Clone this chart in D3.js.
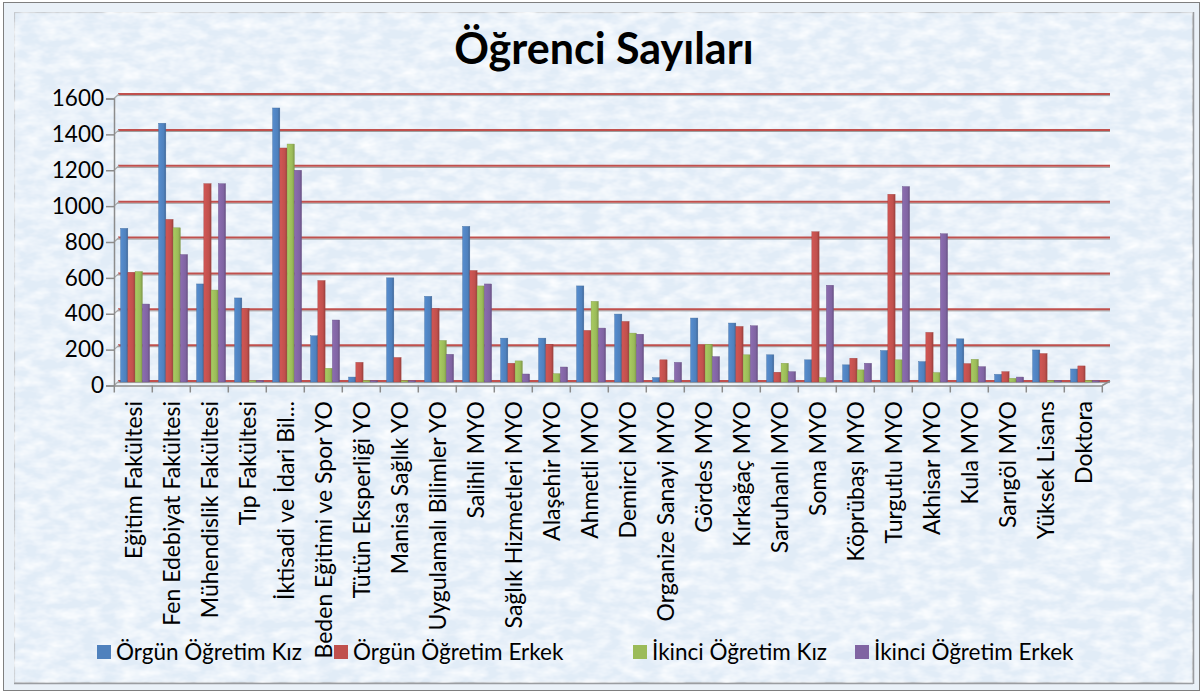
<!DOCTYPE html>
<html>
<head>
<meta charset="utf-8">
<script src="https://cdn.jsdelivr.net/npm/d3@7"></script>
<style>
  html, body { margin: 0; padding: 0; background: #ffffff; }
  svg { display: block; }
  text { font-family: Lato, "Open Sans", sans-serif; fill: #000; }
</style>
</head>
<body>
<svg id="chart" width="1203" height="693"></svg>
<script>
// ---------------- data ----------------
const title = "Öğrenci Sayıları";
const categories = [
  "Eğitim Fakültesi", "Fen Edebiyat Fakültesi", "Mühendislik Fakültesi", "Tıp Fakültesi",
  "İktisadi ve İdari Bil...", "Beden Eğitimi ve Spor YO", "Tütün Eksperliği YO", "Manisa Sağlık YO",
  "Uygulamalı Bilimler YO", "Salihli MYO", "Sağlık Hizmetleri MYO", "Alaşehir MYO",
  "Ahmetli MYO", "Demirci MYO", "Organize Sanayi MYO", "Gördes MYO",
  "Kırkağaç MYO", "Saruhanlı MYO", "Soma MYO", "Köprübaşı MYO",
  "Turgutlu MYO", "Akhisar MYO", "Kula MYO", "Sarıgöl MYO",
  "Yüksek Lisans", "Doktora"
];
const seriesNames = ["Örgün Öğretim Kız", "Örgün Öğretim Erkek", "İkinci Öğretim Kız", "İkinci Öğretim Erkek"];
const orgunKiz    = [851, 1437, 541, 463, 1522, 252, 22, 575, 472, 862, 239, 239, 530, 373, 19, 351, 323, 146, 118, 90, 170, 108, 235, 37, 173, 67];
const orgunErkek  = [605, 901, 1100, 403, 1299, 560, 104, 131, 403, 616, 99, 205, 282, 332, 118, 201, 304, 49, 832, 127, 1041, 271, 97, 52, 153, 84];
const ikinciKiz   = [610, 854, 507, 3, 1321, 71, 3, 2, 226, 530, 112, 41, 444, 267, 5, 205, 146, 99, 19, 62, 118, 47, 121, 15, 3, 3];
const ikinciErkek = [429, 705, 1100, 3, 1175, 340, 2, 2, 149, 541, 39, 78, 295, 261, 104, 136, 308, 52, 534, 99, 1084, 821, 80, 22, 3, 2];
const yTicks = [0, 200, 400, 600, 800, 1000, 1200, 1400, 1600];

const seriesValues = [orgunKiz, orgunErkek, ikinciKiz, ikinciErkek];
const colors = ["#4f81bd", "#c0504d", "#9bbb59", "#8064a2"];

// ---------------- layout ----------------
const W = 1203, H = 693;
const svg = d3.select("#chart");
const defs = svg.append("defs");

// background texture (fine mottled paper)
const filt = defs.append("filter").attr("id", "paper").attr("x", 0).attr("y", 0).attr("width", 1).attr("height", 1);
filt.append("feTurbulence").attr("type", "fractalNoise").attr("baseFrequency", "0.05 0.1").attr("numOctaves", 3).attr("seed", 7).attr("result", "noise");
filt.append("feColorMatrix").attr("in", "noise").attr("type", "matrix")
  .attr("values", "0 0 0 0 0.97  0 0 0 0 0.985  0 0 0 0 1  0 0 0 1.7 -0.55").attr("result", "tint");
filt.append("feComposite").attr("in", "tint").attr("in2", "SourceGraphic").attr("operator", "atop");

// bar gradients (3D look)
colors.forEach((c, i) => {
  const g = defs.append("linearGradient").attr("id", "bar" + i).attr("x1", 0).attr("x2", 1).attr("y1", 0).attr("y2", 0);
  g.append("stop").attr("offset", "0%").attr("stop-color", d3.color(c).brighter(0.25));
  g.append("stop").attr("offset", "70%").attr("stop-color", c);
  g.append("stop").attr("offset", "100%").attr("stop-color", d3.color(c).darker(0.6));
});

// frame
svg.append("rect").attr("x", 3.5).attr("y", 2.5).attr("width", 1196).attr("height", 688)
  .attr("fill", "#eaf1f8").attr("stroke", "#7f7f7f").attr("stroke-width", 1);
svg.append("rect").attr("x", 14.5).attr("y", 12.5).attr("width", 1178).attr("height", 670)
  .attr("fill", "#e1ecf7").attr("filter", "url(#paper)").attr("stroke", "#c4c8cd").attr("stroke-width", 1.2);
svg.append("line").attr("x1", 14).attr("x2", 1193).attr("y1", 683.5).attr("y2", 683.5).attr("stroke", "#9a9da1").attr("stroke-width", 1.5);
svg.append("line").attr("x1", 1193.5).attr("x2", 1193.5).attr("y1", 12).attr("y2", 684).attr("stroke", "#9a9da1").attr("stroke-width", 1.5);

// scales
const x0 = d3.scaleBand().domain(categories).range([114.3, 114.3 + 26 * 38]).padding(0);
const x1 = d3.scaleBand().domain(d3.range(4)).range([6.3, 35.3]).padding(0);
const y = d3.scaleLinear().domain([0, 1600]).range([381, 94]);
const front = 4.5; // 3D offset of the front plane

// gridlines (back wall)
const grid = svg.append("g");
grid.selectAll("line.shadow").data(yTicks).join("line")
  .attr("x1", 117).attr("x2", 1110)
  .attr("y1", d => y(d) + 1.6).attr("y2", d => y(d) + 1.6)
  .attr("stroke", "#9c9c9c").attr("stroke-width", 1);
grid.selectAll("line.main").data(yTicks).join("line")
  .attr("x1", 118).attr("x2", 1110)
  .attr("y1", d => y(d)).attr("y2", d => y(d))
  .attr("stroke", "#c0504d").attr("stroke-width", 2);
grid.selectAll("path.diag").data(yTicks).join("path")
  .attr("d", d => `M114,${y(d) + front} L119,${y(d)}`)
  .attr("stroke", "#a8a8a8").attr("stroke-width", 1.2).attr("fill", "none");

// y axis
const yAxis = d3.axisLeft(y).tickValues(yTicks).tickSize(8).tickPadding(2).tickFormat(d3.format("d"));
const yg = svg.append("g").attr("transform", `translate(114,${front})`).call(yAxis);
yg.select(".domain").attr("stroke", "#8c8c8c").attr("stroke-width", 1.5);
yg.selectAll(".tick line").attr("stroke", "#8c8c8c").attr("stroke-width", 1.5);
yg.selectAll(".tick text").attr("font-size", 22.5).attr("font-family", "Lato, sans-serif").attr("fill", "#000");

// bars
const groups = svg.append("g").selectAll("g").data(categories).join("g")
  .attr("transform", d => `translate(${x0(d)},0)`);
groups.selectAll("rect").data((d, i) => seriesValues.map((s, k) => ({ k, v: s[i] }))).join("rect")
  .attr("x", d => x1(d.k))
  .attr("y", d => y(d.v))
  .attr("width", x1.bandwidth())
  .attr("height", d => y(0) - y(d.v) + 1)
  .attr("fill", d => `url(#bar${d.k})`)
  .attr("stroke", d => d3.color(colors[d.k]).darker(0.5))
  .attr("stroke-width", 0.4);

// x axis
const xAxis = d3.axisBottom(x0).tickSize(0).tickFormat("");
const xg = svg.append("g").attr("transform", `translate(0,${y(0) + front})`).call(xAxis);
xg.select(".domain").attr("stroke", "#8c8c8c").attr("stroke-width", 1.5);
xg.selectAll(".bnd").data(d3.range(27)).join("line")
  .attr("x1", i => x0.range()[0] + i * x0.step()).attr("x2", i => x0.range()[0] + i * x0.step())
  .attr("y1", 0).attr("y2", 7).attr("stroke", "#8c8c8c").attr("stroke-width", 1.5);
svg.append("path").attr("d", `M${x0.range()[1]},${y(0) + front} L1110,${y(0)}`)
  .attr("stroke", "#8c8c8c").attr("stroke-width", 1.5).attr("fill", "none");

// legend
const legendX = [97, 334, 633, 855];
const lg = svg.append("g").selectAll("g").data(seriesNames).join("g")
  .attr("transform", (d, i) => `translate(${legendX[i]},645)`);
lg.append("rect").attr("width", 14).attr("height", 14).attr("fill", (d, i) => colors[i]);
lg.append("text").attr("x", 19).attr("y", 15).attr("font-size", 22.5).text(d => d);

// category labels (drawn over legend, like the original)
svg.append("g").selectAll("text").data(categories).join("text")
  .attr("transform", d => `translate(${x0(d) + x0.bandwidth() / 2},401) rotate(-90)`)
  .attr("text-anchor", "end").attr("dy", "0.36em")
  .attr("font-size", 23).text(d => d);

// title
svg.append("text").attr("x", 604).attr("y", 64).attr("text-anchor", "middle")
  .attr("font-size", 43).attr("font-weight", "bold").text(title);
</script>
</body>
</html>
